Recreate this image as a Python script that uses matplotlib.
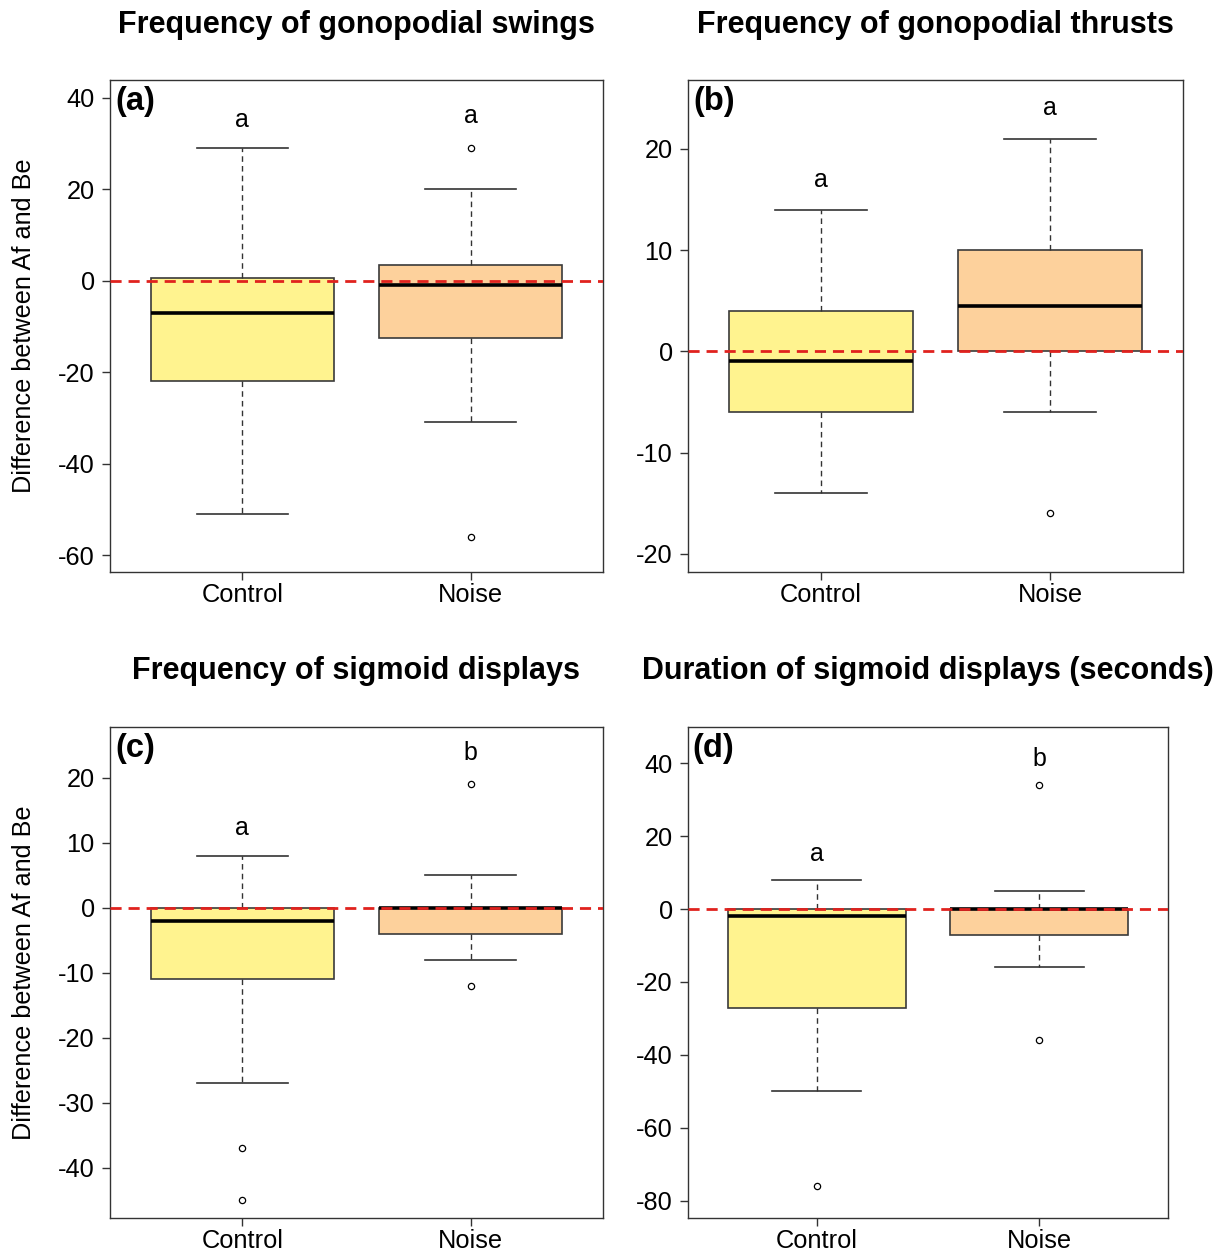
import matplotlib
matplotlib.use("Agg")
import matplotlib.pyplot as plt

plt.rcParams['font.family'] = ['Liberation Sans', 'DejaVu Sans']

groups = ["Control", "Noise"]
titles = ["Frequency of gonopodial swings", "Frequency of gonopodial thrusts",
          "Frequency of sigmoid displays", "Duration of sigmoid displays (seconds)"]
panel_tags = ["(a)", "(b)", "(c)", "(d)"]

# box stats per panel: [control, noise] -> (whislo, q1, med, q3, whishi)
swings = [(-51, -22, -7, 0.5, 29), (-31, -12.5, -1, 3.5, 20)]
thrusts = [(-14, -6, -1, 4, 14), (-6, 0, 4.5, 10, 21)]
sigmoid_freq = [(-27, -11, -2, 0, 8), (-8, -4, 0, 0, 5)]
sigmoid_dur = [(-50, -27, -2, 0, 8), (-16, -7, 0, 0, 5)]

swings_out = [[], [29, -56]]
thrusts_out = [[], [-16]]
sigmoid_freq_out = [[-37, -45], [19, -12]]
sigmoid_dur_out = [[-76], [34, -36]]

# significance letters and their heights
letters = [["a", "a"], ["a", "a"], ["a", "b"], ["a", "b"]]
letter_y = [[35.2, 36.0], [16.9, 24.0], [12.2, 23.8], [15.0, 41.0]]

ylims = [(-63.7, 43.9), (-21.8, 26.8), (-47.7, 27.8), (-84.7, 49.9)]
yticks = [[-60, -40, -20, 0, 20, 40], [-20, -10, 0, 10, 20],
          [-40, -30, -20, -10, 0, 10, 20], [-80, -60, -40, -20, 0, 20, 40]]

all_stats = [swings, thrusts, sigmoid_freq, sigmoid_dur]
all_out = [swings_out, thrusts_out, sigmoid_freq_out, sigmoid_dur_out]
box_colors = ["#FFF38F", "#FDD19C"]

W, H = 1224, 1248
fig = plt.figure(figsize=(W / 100, H / 100), dpi=100)

# axes rectangles in pixels: left, top, right, bottom
rects = [(110, 80, 603, 572), (688, 80, 1183, 572),
         (110, 727, 603, 1218), (688, 727, 1168, 1218)]
title_y = [25, 25, 671, 671]

for i in range(4):
    l, t, r, b = rects[i]
    ax = fig.add_axes([l / W, 1 - b / H, (r - l) / W, (b - t) / H])
    stats = []
    for j in range(2):
        lo, q1, med, q3, hi = all_stats[i][j]
        stats.append(dict(whislo=lo, q1=q1, med=med, q3=q3, whishi=hi,
                          fliers=all_out[i][j], label=groups[j]))
    bp = ax.bxp(stats, positions=[1, 2], widths=0.8, patch_artist=True,
                boxprops=dict(edgecolor="#3a3a3a", linewidth=1.2),
                medianprops=dict(color="black", linewidth=2.6, solid_capstyle="butt"),
                whiskerprops=dict(color="#333333", linewidth=1, linestyle=(0, (4, 3))),
                capprops=dict(color="#333333", linewidth=1.2),
                capwidths=0.4,
                flierprops=dict(marker="o", markersize=4.5, markerfacecolor="none",
                                markeredgecolor="black", markeredgewidth=0.9))
    for patch, c in zip(bp["boxes"], box_colors):
        patch.set_facecolor(c)
    ax.axhline(0, color="#E0221E", linestyle=(0, (4, 2.5)), linewidth=2, zorder=5)
    for j in range(2):
        ax.text(j + 1, letter_y[i][j], letters[i][j], ha="center", va="center",
                fontsize=18)
    ax.set_xlim(0.42, 2.58)
    ax.set_ylim(*ylims[i])
    ax.set_yticks(yticks[i])
    ax.set_yticklabels([str(v) for v in yticks[i]])
    ax.tick_params(axis="both", direction="out", length=6, width=1, labelsize=18.3,
                   color="#333333")
    ax.tick_params(axis="y", pad=5)
    ax.tick_params(axis="x", pad=2)
    for s in ax.spines.values():
        s.set_linewidth(1)
        s.set_color("#333333")
    ax.text(0.01, 0.988, panel_tags[i], transform=ax.transAxes, ha="left", va="top",
            fontsize=23.5, fontweight="bold")
    fig.text((l + r) / 2 / W, 1 - title_y[i] / H, titles[i], ha="center", va="center",
             fontsize=22, fontweight="bold")
    if i % 2 == 0:
        fig.text(24 / W, 1 - (t + b) / 2 / H, "Difference between Af and Be",
                 rotation=90, ha="center", va="center", fontsize=18.2)

fig.savefig("out.png", dpi=100)
